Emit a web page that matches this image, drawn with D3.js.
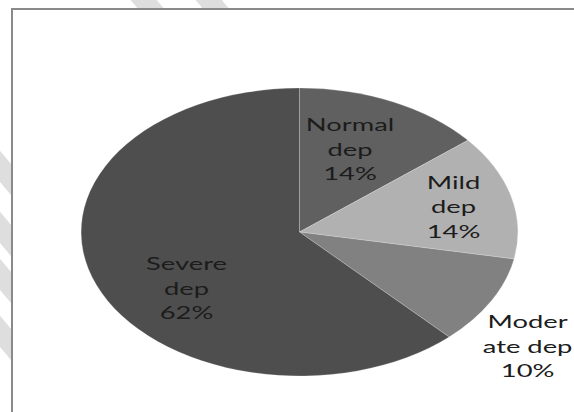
<!DOCTYPE html>
<html>
<head>
<meta charset="utf-8">
<script src="https://cdn.jsdelivr.net/npm/d3@7"></script>
<style>
  html, body { margin: 0; padding: 0; background: #ffffff; }
  svg { display: block; }
</style>
</head>
<body>
<svg id="chart" width="574" height="412"></svg>
<script>
// Depression severity shares (percent)
const categories = ["Normal dep", "Mild dep", "Moderate dep", "Severe dep"];
const values = [14, 14, 10, 62];
const labelLines = [["Normal", "dep"], ["Mild", "dep"], ["Moder", "ate dep"], ["Severe", "dep"]];
const sliceColors = ["#606060", "#b1b1b1", "#818181", "#4e4e4e"];

const W = 574, H = 412;
const svg = d3.select("#chart");

// light diagonal watermark bands in the margin
const bands = [[142, -2], [207, -2], [-2, 164], [-2, 225], [-2, 272], [-2, 329]];
const ang = 50 * Math.PI / 180;
const dx = Math.cos(ang), dy = Math.sin(ang);
svg.append("g").selectAll("line").data(bands).join("line")
  .attr("x1", d => d[0] - dx * 40).attr("y1", d => d[1] - dy * 40)
  .attr("x2", d => d[0] + dx * 40).attr("y2", d => d[1] + dy * 40)
  .attr("stroke", "#dedede").attr("stroke-width", 20);

// chart frame (open to the right and bottom)
svg.append("rect")
  .attr("x", 12).attr("y", 9).attr("width", W).attr("height", H)
  .attr("fill", "#ffffff").attr("stroke", "#8a8a8a").attr("stroke-width", 2);

// pie, drawn on a unit circle and stretched into an ellipse
const cx = 299.5, cy = 232, rx = 218.5, ry = 144;
const pie = d3.pie().sort(null).value(d => d);
const arcs = pie(values);
const arc = d3.arc().innerRadius(0).outerRadius(1);

const g = svg.append("g").attr("transform", `translate(${cx},${cy})`);
g.append("g").attr("transform", `scale(${rx},${ry})`)
  .selectAll("path").data(arcs).join("path")
  .attr("d", arc)
  .attr("fill", (d, i) => sliceColors[i])
  .attr("stroke", "rgba(255,255,255,0.22)")
  .attr("stroke-width", 1)
  .attr("vector-effect", "non-scaling-stroke");

// label anchors in unit-ellipse coordinates
const labelAnchor = [[0.231, -0.575], [0.705, -0.174], [1.044, 0.793], [-0.517, 0.392]];
const lineH = 24.5, sx = 1.52;

arcs.forEach((a, i) => {
  const lines = labelLines[i].concat([values[i] + "%"]);
  const lx = labelAnchor[i][0] * rx, ly = labelAnchor[i][1] * ry;
  const lg = g.append("g").attr("transform", `translate(${lx},${ly}) scale(${sx},1)`);
  lg.selectAll("text").data(lines).join("text")
    .attr("x", 0)
    .attr("y", (t, j) => (j - (lines.length - 1) / 2) * lineH + 6.5)
    .attr("text-anchor", "middle")
    .attr("font-family", "Lato, 'Open Sans', sans-serif")
    .attr("font-size", 18)
    .attr("fill", "#1c1c1c")
    .text(t => t);
});
</script>
</body>
</html>
